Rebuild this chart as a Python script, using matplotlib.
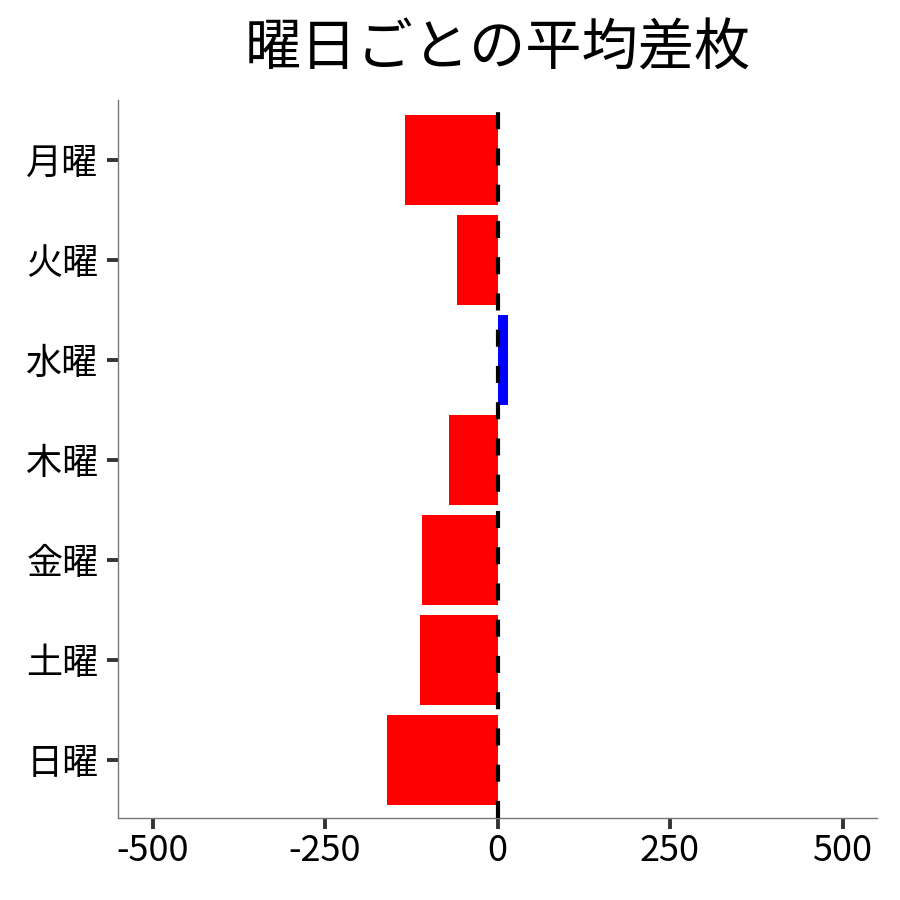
import matplotlib
matplotlib.use("Agg")
import matplotlib.pyplot as plt

plt.rcParams['font.family'] = ['Noto Sans CJK JP', 'DejaVu Sans']

days = ["月曜", "火曜", "水曜", "木曜", "金曜", "土曜", "日曜"]
avg_diff = [-134, -59, 15, -70, -109, -112, -160]
xticks = [-500, -250, 0, 250, 500]
title = "曜日ごとの平均差枚"

colors = ["blue" if v > 0 else "red" for v in avg_diff]

fig = plt.figure(figsize=(9, 9), dpi=100)
ax = fig.add_axes([118/900, 1 - 818/900, (877-118)/900, (818-100)/900])

ypos = list(range(len(days)))
ax.barh(ypos, avg_diff, height=0.9, color=colors, zorder=2)
ax.axvline(0, color="black", linewidth=3, linestyle=(0, (4.1, 4.6)), zorder=3)

ax.set_xlim(-550, 550)
ax.set_ylim(6.58, -0.6)
ax.set_yticks(ypos)
ax.set_yticklabels(days)
ax.set_xticks(xticks)
ax.set_xticklabels([str(t) for t in xticks])

for s in ["top", "right"]:
    ax.spines[s].set_visible(False)
for s in ["left", "bottom"]:
    ax.spines[s].set_color("#777777")
    ax.spines[s].set_linewidth(1.0)

ax.tick_params(axis="both", length=8, width=2.8, color="#333333",
               labelsize=26, labelcolor="black", pad=5)
ax.tick_params(axis="y", pad=6)
ax.tick_params(axis="x", pad=3)

ax.set_title(title, fontsize=40.5, pad=25)

fig.savefig("out.png", dpi=100)
